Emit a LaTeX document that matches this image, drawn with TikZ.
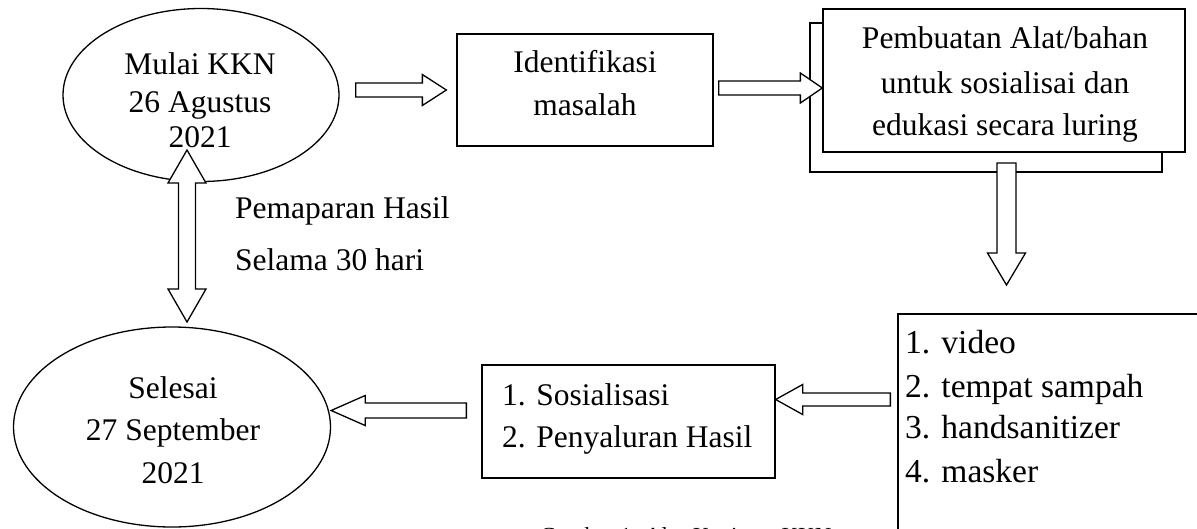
\documentclass[tikz,border=0pt]{standalone}
\usepackage{fontspec}
\setmainfont{Liberation Serif}
\usetikzlibrary{calc,shapes.geometric}
\tikzset{
  shp/.style={draw, line width=1.3pt, inner sep=0pt, fill=white},
  ell/.style={shp, ellipse},
  box/.style={shp, rectangle},
  txt/.style={anchor=base, inner sep=0pt, font=\fontsize{31.5}{38}\selectfont},
  txtl/.style={txt, anchor=base west},
  listtxt/.style={txtl, font=\fontsize{33.5}{40}\selectfont},
  blk/.style={draw, line width=1.3pt, fill=white, line join=miter},
}
% hollow block arrow: tail, tip, shaft half width, head half width, head length
\newcommand\blockarrow[5]{%
  \coordinate (baB) at ($(#2)!#5!(#1)$);
  \draw[blk] ($(#1)!#3!90:(#2)$) -- ($(baB)!#3!-90:(#1)$) -- ($(baB)!#4!-90:(#1)$)
    -- (#2) -- ($(baB)!#4!90:(#1)$) -- ($(baB)!#3!90:(#1)$) -- ($(#1)!#3!-90:(#2)$) -- cycle;}
% hollow double-headed block arrow
\newcommand\doubleblockarrow[5]{%
  \coordinate (daA) at ($(#1)!#5!(#2)$);
  \coordinate (daB) at ($(#2)!#5!(#1)$);
  \draw[blk] (#1) -- ($(daA)!#4!90:(#2)$) -- ($(daA)!#3!90:(#2)$) -- ($(daB)!#3!-90:(#1)$)
    -- ($(daB)!#4!-90:(#1)$) -- (#2) -- ($(daB)!#4!90:(#1)$) -- ($(daB)!#3!90:(#1)$)
    -- ($(daA)!#3!-90:(#2)$) -- ($(daA)!#4!-90:(#2)$) -- cycle;}
\begin{document}
\begin{tikzpicture}[x=1pt, y=-1pt]
\useasboundingbox (0,0) rectangle (1197,528);
\clip (0,0) rectangle (1197,528);

% shapes
\node[ell, minimum width=276pt, minimum height=173pt] (mulai) at (201,95) {};
\node[box, minimum width=256pt, minimum height=112pt] (ident) at (585,90) {};
\node[box, minimum width=352pt, minimum height=149pt] (buatback) at (986,97.5) {};
\node[box, minimum width=362pt, minimum height=143pt] (buat) at (1004,80.5) {};
\node[box, minimum width=317pt, minimum height=246pt] (list) at (1056.5,437) {};
\node[box, minimum width=293pt, minimum height=113pt] (sos) at (628.5,421.5) {};
\node[ell, minimum width=317pt, minimum height=200pt] (selesai) at (172,427) {};

% texts
\node[txt] (m1) at (200,74) {Mulai KKN};
\node[txt] (m2) at (200,112) {26 Agustus};
\node[txt] (m3) at (200,147) {2021};
\node[txt] (i1) at (585,72) {Identifikasi};
\node[txt] (i2) at (585,115) {masalah};
\node[txt] (b1) at (1005,48) {Pembuatan Alat/bahan};
\node[txt] (b2) at (1005,93) {untuk sosialisai dan};
\node[txt] (b3) at (1005,135) {edukasi secara luring};
\node[listtxt] (l1) at (905,353) {1. video};
\node[listtxt] (l2) at (905,397) {2. tempat sampah};
\node[listtxt] (l3) at (905,438) {3. handsanitizer};
\node[listtxt] (l4) at (905,482) {4. masker};
\node[txtl] (s1) at (502,405) {1. Sosialisasi};
\node[txtl] (s2) at (502,447) {2. Penyaluran Hasil};
\node[txt] (e1) at (173,398) {Selesai};
\node[txt] (e2) at (173,440) {27 September};
\node[txt] (e3) at (173,483) {2021};
\node[txtl] (p1) at (235,218) {Pemaparan Hasil};
\node[txtl] (p2) at (235,270) {Selama 30 hari};
\node[anchor=base west, inner sep=0pt, font=\fontsize{23}{28}\selectfont] (cap) at (540,543) {Gambar 1. Alur Kegiatan KKN};

% connectors
\coordinate (a1t) at ($(mulai.east)+(16,-5)$);
\coordinate (a1h) at ($(ident.west)+(-10,0)$);
\blockarrow{a1t}{a1h}{7pt}{15.5pt}{24pt}
\coordinate (a2t) at ($(ident.east)+(5,-2)$);
\coordinate (a2h) at (buat.west |- a2t);
\blockarrow{a2t}{a2h}{7pt}{15pt}{22pt}
\coordinate (a3t) at (1006.5,163);
\coordinate (a3h) at (1006.5,285);
\blockarrow{a3t}{a3h}{9.5pt}{19pt}{32pt}
\coordinate (a4t) at ($(list.west |- 0,399.5)+(-7,0)$);
\coordinate (a4h) at (sos.east |- a4t);
\blockarrow{a4t}{a4h}{6.5pt}{15pt}{27pt}
\coordinate (a5t) at ($(sos.west |- 0,410.5)+(-15,0)$);
\coordinate (a5h) at (selesai.east |- a5t);
\blockarrow{a5t}{a5h}{7.5pt}{15pt}{34pt}
\coordinate (dA) at (187,150);
\coordinate (dB) at (187,322);
\doubleblockarrow{dA}{dB}{8.5pt}{19pt}{33pt}
\end{tikzpicture}
\end{document}
